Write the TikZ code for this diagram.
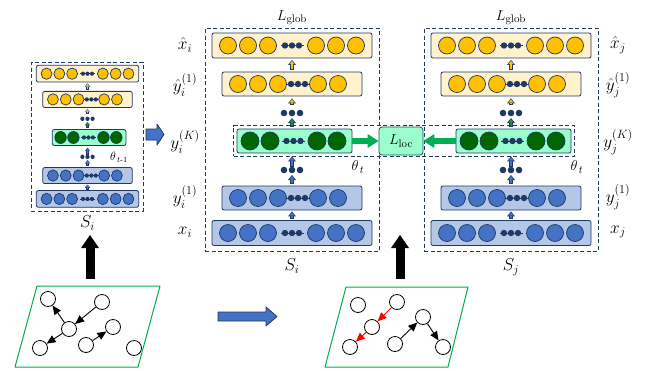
\documentclass[tikz,border=0pt]{standalone}
\usepackage{amsmath}
\usetikzlibrary{arrows.meta,positioning,fit}

\definecolor{navy}{HTML}{1F3864}
\definecolor{amber}{HTML}{FFC000}
\definecolor{cream}{HTML}{FFF2CC}
\definecolor{steel}{HTML}{4472C4}
\definecolor{skyfill}{HTML}{B4C7E7}
\definecolor{leaf}{HTML}{006600}
\definecolor{mint}{HTML}{99FFCC}
\definecolor{grass}{HTML}{00B050}
\definecolor{fern}{HTML}{1E8C3A}
\definecolor{lossedge}{HTML}{1F4E5A}

\tikzset{
  layerrow/.style={draw=navy, line width=0.8pt, rounded corners=2pt, inner sep=0pt},
  orangerow/.style={layerrow, fill=cream},
  greenrow/.style={layerrow, fill=mint},
  bluerow/.style={layerrow, fill=skyfill},
  neuron/.style={draw=navy, line width=0.7pt},
  panelbox/.style={draw=navy, dash pattern=on 4pt off 2.5pt, line width=0.8pt, inner sep=0pt},
  lbl/.style={font=\fontsize{17}{19}\selectfont},
  toplbl/.style={font=\fontsize{15}{17}\selectfont},
  lossbox/.style={draw=lossedge, fill=mint, line width=0.8pt, rounded corners=3pt, minimum width=44pt, minimum height=28pt, font=\fontsize{15}{17}\selectfont},
  lossarr/.style={grass, line width=6.5pt, -{Triangle[width=14pt,length=11pt,line width=0pt]}},
  blockarr/.style={draw=navy, fill=steel, line width=0.8pt},
  bigup/.style={line width=9pt, -{Triangle[width=18pt,length=13pt,line width=0pt]}},
  plane/.style={draw=grass, line width=1pt},
  gnode/.style={circle, draw, line width=0.8pt, minimum size=15pt, inner sep=0pt},
  gedge/.style={line width=0.9pt, -{Triangle[width=8pt,length=9pt,line width=0pt]}}
}

\def\arrsc{1}
\newcommand\unitrow[5]{%
  \draw[navy, line width=\arrsc*0.9pt] (#4-11.5,#2) -- (#4+11.5,#2);
  \foreach \p in {#3} \draw[neuron, fill=#1] (\p,#2) circle (#5);
  \foreach \d in {-7,0,7} \fill[navy] (#4+\d,#2) circle (3.2);
}
\newcommand\dotrow[1]{\foreach \d in {-8,0,8} \fill[navy] (\d,#1) circle (3.3);}
\newcommand\layarr[5]{%
  \draw[navy, line width=\arrsc*4.2pt, shorten <=\arrsc*#4pt, shorten >=\arrsc*#5pt,
    -{Triangle[width=8pt,length=5pt,line width=0pt,scale=\arrsc]}] #2 -- #3;
  \draw[#1, line width=\arrsc*2.4pt, shorten <=\arrsc*#4pt+\arrsc*0.8pt, shorten >=\arrsc*#5pt+\arrsc*0.9pt,
    -{Triangle[width=5.2pt,length=3.4pt,line width=0pt,scale=\arrsc]}] #2 -- #3;
}
\newcommand\panel[1]{%
  \node[panelbox, minimum width=174pt, minimum height=223pt] (#1box) at (0,111.5) {};
  \node[orangerow, minimum width=160pt, minimum height=25pt] (#1xh) at (0,17.5) {};
  \node[orangerow, minimum width=140pt, minimum height=24pt] (#1yh) at (0,56) {};
  \node[greenrow, minimum width=115pt, minimum height=24pt] (#1yk) at (2.5,113) {};
  \node[bluerow, minimum width=140pt, minimum height=24pt] (#1ya) at (0,170) {};
  \node[bluerow, minimum width=160pt, minimum height=25pt] (#1xa) at (0,205) {};
  \unitrow{amber}{17.5}{-64,-44,-24,24,44,64}{0}{8.5}
  \unitrow{amber}{56}{-54,-34,-14,26,46}{6}{8.5}
  \unitrow{leaf}{113}{-42,-22,25,45}{1.5}{9}
  \unitrow{steel}{170}{-54,-34,-14,26,46}{6}{8.5}
  \unitrow{steel}{205}{-64,-44,-24,24,44,64}{0}{8.5}
  \coordinate (#1top) at (0,85);
  \coordinate (#1bot) at (0,142);
  \dotrow{85}\dotrow{142}
  \layarr{amber}{(#1yh.north)}{(#1xh.south)}{2}{1.5}
  \layarr{amber}{(#1top)}{(#1yh.south)}{8}{2}
  \layarr{fern}{(#1top |- #1yk.north)}{(#1top)}{2}{5}
  \layarr{steel}{(#1bot)}{(#1bot |- #1yk.south)}{3}{3}
  \layarr{steel}{(#1ya.north)}{(#1bot)}{2}{5}
  \layarr{steel}{(#1xa.north)}{(#1ya.south)}{1}{1}
}
\newcommand\panellabels[3]{%
  \node[lbl] (#1lab1) at (#2,17) {$\hat{x}_#3$};
  \node[lbl] (#1lab2) at (#2,57) {$\hat{y}_#3^{(1)}$};
  \node[lbl] (#1lab3) at (#2,114) {$y_#3^{(K)}$};
  \node[lbl] (#1lab4) at (#2,169) {$y_#3^{(1)}$};
  \node[lbl] (#1lab5) at (#2,204) {$x_#3$};
  \node[toplbl] (#1theta) at (66,139) {$\theta_{\,t}$};
  \node[toplbl, above=-1pt of #1box] (#1glob) {$L_{\mathrm{glob}}$};
  \node[lbl, below=4pt of #1box] (#1set) {$S_#3$};
}

\begin{document}
\begin{tikzpicture}[x=1pt, y=-1pt, line join=round]
\useasboundingbox (0,0) rectangle (645,370);

\begin{scope}[shift={(87.5,62)}, xscale=0.64, yscale=0.668, transform shape]
\def\arrsc{0.65}
\panel{l}
\end{scope}
\node[font=\fontsize{12}{14}\selectfont] (ltheta) at (119,157) {$\theta_{\,t\text{-}1}$};
\node[lbl, below=1pt of lbox] (lset) {$S_i$};

\begin{scope}[shift={(292,28)}]
\panel{m}
\panellabels{m}{-107}{i}
\end{scope}
\begin{scope}[shift={(511,28)}]
\panel{r}
\panellabels{r}{107}{j}
\end{scope}

\node[panelbox, fit=(myk)(ryk), inner sep=3pt] (locbox) {};
\node[lossbox] (lloc) at (401,141) {$L_{\mathrm{loc}}$};
\draw[lossarr] (myk.east) -- (lloc.west);
\draw[lossarr] (ryk.west) -- (lloc.east);

\draw[blockarr] (146,129) -- (157,129) -- (157,124) -- (164,134.5) -- (157,145) -- (157,140) -- (146,140) -- cycle;
\draw[blockarr] (218,312) -- (266,312) -- (266,307) -- (277,316.5) -- (266,326) -- (266,321) -- (218,321) -- cycle;

\coordinate (g1top) at (90,279);
\coordinate (g1tip) at (90,235);
\coordinate (g2top) at (400,279);
\coordinate (g2tip) at (400,235);
\draw[bigup] (g1top) -- (g1tip);
\draw[bigup] (g2top) -- (g2tip);

\draw[plane] (37,286) -- (160,286) -- (138,367) -- (15,367) -- cycle;
\node[gnode] (a) at (48,299) {};
\node[gnode] (b) at (102,302) {};
\node[gnode] (c) at (69,329) {};
\node[gnode] (d) at (40,348) {};
\node[gnode] (e) at (86,345) {};
\node[gnode] (f) at (113,327) {};
\node[gnode] (g) at (134,348) {};
\draw[gedge] (c) -- (a);
\draw[gedge] (b) -- (c);
\draw[gedge] (c) -- (d);
\draw[gedge] (e) -- (f);

\draw[plane] (346,287) -- (468,287) -- (448,367) -- (325,367) -- cycle;
\node[gnode] (p) at (358,305) {};
\node[gnode] (q) at (397,302) {};
\node[gnode] (r) at (372,327) {};
\node[gnode] (s) at (350,347) {};
\node[gnode] (t) at (395,344) {};
\node[gnode] (u) at (423,317) {};
\node[gnode] (v) at (443,347) {};
\draw[gedge, red] (q) -- (r);
\draw[gedge, red] (r) -- (s);
\draw[gedge] (t) -- (u);
\draw[gedge] (u) -- (v);
\end{tikzpicture}
\end{document}
